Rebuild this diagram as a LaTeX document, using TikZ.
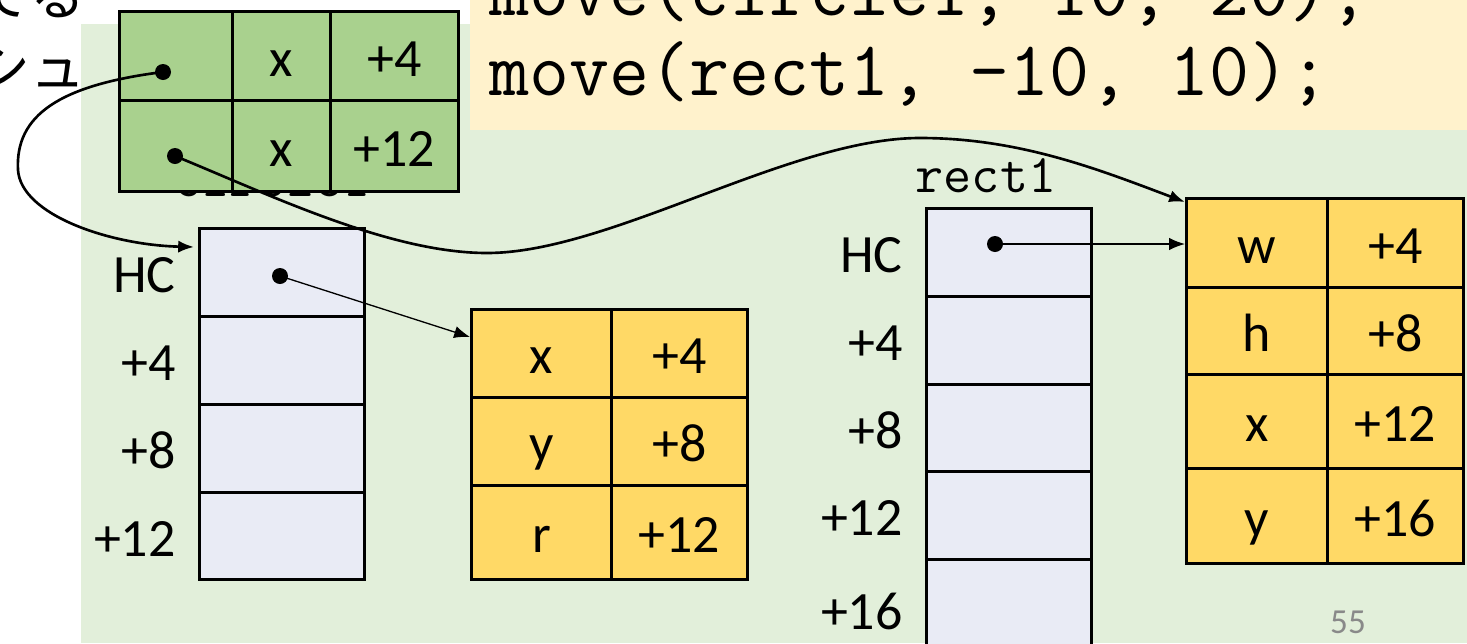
\documentclass[tikz,border=0pt]{standalone}
\usepackage{fontspec}
\setmainfont{Carlito}
\newfontfamily\jpfont{Noto Sans CJK JP}
\usetikzlibrary{arrows.meta}
\usetikzlibrary{positioning}

\definecolor{bggreen}{RGB}{226,239,218}
\definecolor{codebg}{RGB}{255,242,204}
\definecolor{tblgreen}{RGB}{169,209,142}
\definecolor{memblue}{RGB}{233,235,245}
\definecolor{fldyellow}{RGB}{255,217,102}
\definecolor{pagegray}{RGB}{137,137,137}

\newcommand\pxu{0.02cm}
\newcommand\lblfont{\fontsize{30.7}{37}\selectfont}

\tikzset{
	cell/.style={draw, line width=1.7pt, inner sep=0pt, anchor=north west, font=\lblfont, text height=23pt, text depth=0pt},
	gcell/.style={cell, fill=tblgreen},
	mcell/.style={cell, fill=memblue, minimum width=165*\pxu},
	fcell/.style={cell, fill=fldyellow},
	lbl/.style={inner sep=0pt, font=\lblfont, text height=23pt, text depth=0pt},
	code/.style={inner sep=0pt, anchor=base west, font=\fontsize{44.2}{53}\selectfont\ttfamily},
	nm/.style={inner sep=0pt, anchor=base, font=\fontsize{31}{37}\selectfont\ttfamily},
	jp/.style={inner sep=0pt, anchor=base east, font=\fontsize{31.3}{37}\jpfont},
	dot/.style={circle, fill, inner sep=0pt, minimum size=16*\pxu},
	ptr/.style={line width=0.75pt, -{Latex[length=9pt,width=7pt]}},
	link/.style={line width=1.5pt, -{Latex[length=9pt,width=7pt]}}
}

\begin{document}
\begin{tikzpicture}[x=0.02cm, y=-0.02cm]
			\useasboundingbox (0,0) rectangle (1467,643);
			\clip (0,0) rectangle (1467,643);
			\fill[white] (0,0) rectangle (1467,643);
			\fill[bggreen] (81,24) rectangle (1467,643);
			\node[jp] (jp1) at (86,15) {てる};
			\node[jp] (jp2) at (86,87) {シュ};
			\fill[codebg] (470,0) rectangle (1467,130);
			\node[code] (ln1) at (489,15) {move(circle1, 10, 20);};
			\node[code] (ln2) at (489,95) {move(rect1, -10, 10);};
			\node[nm] (cname) at (272,196) {circle1};
			\node[nm] (rname) at (986,192) {rect1};
			%
			\foreach \r/\t/\h/\v in {1/10/89/+4, 2/99/91/+12}{
					\node[gcell, minimum width=113*\pxu, minimum height=\h*\pxu] (g\r1) at (118,\t) {};
					\node[gcell, minimum width=98*\pxu, minimum height=\h*\pxu] (g\r2) at (231,\t) {x};
					\node[gcell, minimum width=128*\pxu, minimum height=\h*\pxu] (g\r3) at (329,\t) {\v};
				}
			\foreach \t/\h/\l [count=\i] in {227/88/HC, 315/88/+4, 403/88/+8, 491/87/+12}{
					\node[mcell, minimum height=\h*\pxu] (c\i) at (198,\t) {};
					\node[lbl, left=0.44cm of c\i] (cl\i) {\l};
				}
			\foreach \t/\h/\a/\b [count=\i] in {308/88/x/+4, 396/88/y/+8, 484/94/r/+12}{
					\node[fcell, minimum width=140*\pxu, minimum height=\h*\pxu] (ct\i1) at (470,\t) {\a};
					\node[fcell, minimum width=136*\pxu, minimum height=\h*\pxu] (ct\i2) at (610,\t) {\b};
				}
			\foreach \t/\h/\l [count=\i] in {207/88/HC, 295/88/+4, 383/87/+8, 470/88/+12, 558/100/+16}{
					\node[mcell, minimum height=\h*\pxu] (r\i) at (925,\t) {};
					\node[lbl, left=0.44cm of r\i] (rl\i) {\l};
				}
			\foreach \t/\h/\a/\b [count=\i] in {197/89/w/+4, 286/87/h/+8, 373/94/x/+12, 467/95/y/+16}{
					\node[fcell, minimum width=141*\pxu, minimum height=\h*\pxu] (rt\i1) at (1185,\t) {\a};
					\node[fcell, minimum width=136*\pxu, minimum height=\h*\pxu] (rt\i2) at (1326,\t) {\b};
				}
			%
			\node[dot] (gd1) at (163,72) {};
			\node[dot] (gd2) at (175,156) {};
			\node[dot] (cd) at (280,276) {};
			\node[dot] (rd) at (995,244) {};
			\draw[ptr] (cd.center) -- ([yshift=-0.58cm]ct11.north west);
			\draw[ptr] (rd.center) -- (rd -| rt11.west);
			\draw[link] (gd1.center) .. controls (60,85) and (15,115) .. (18,170) .. controls (21,215) and (110,245) .. ([xshift=-0.08cm,yshift=-0.4cm]c1.north west);
			\draw[link] (gd2.center) .. controls (270,195) and (390,253) .. (487,253) .. controls (610,253) and (790,138) .. (920,138) .. controls (1020,138) and (1100,170) .. ([yshift=-0.1cm]rt11.north west);
			%
			\node[text=pagegray, font=\fontsize{20}{24}\selectfont] (pg) at (1348,622) {55};
		\end{tikzpicture}
\end{document}
